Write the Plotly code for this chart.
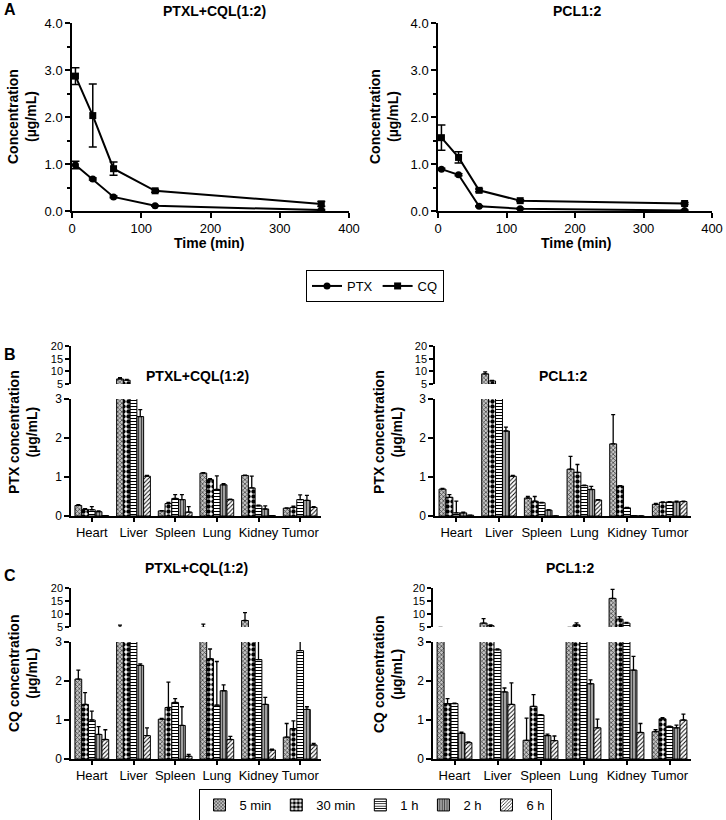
import plotly.graph_objects as go

W, H = 726, 820
FONT = "Liberation Sans, Arial, sans-serif"

# ---------------- data ----------------
times = [5, 30, 60, 120, 360]
a1_ptx = [0.98, 0.68, 0.30, 0.11, 0.02]
a1_ptx_err = [0.08, 0.02, 0.02, 0.01, 0.01]
a1_cq = [2.87, 2.03, 0.90, 0.43, 0.15]
a1_cq_err = [0.18, 0.67, 0.14, 0.03, 0.05]
a2_ptx = [0.89, 0.77, 0.10, 0.05, 0.01]
a2_ptx_err = [0.02, 0.02, 0.01, 0.01, 0.01]
a2_cq = [1.56, 1.14, 0.44, 0.22, 0.16]
a2_cq_err = [0.27, 0.12, 0.03, 0.02, 0.02]

organs = ["Heart", "Liver", "Spleen", "Lung", "Kidney", "Tumor"]
timepoints = ["5 min", "30 min", "1 h", "2 h", "6 h"]

# B left: PTX, PTXL+CQL(1:2)
b1_mean = [
    [0.27, 7.0, 0.13, 1.10, 1.04, 0.20],
    [0.17, 6.5, 0.32, 0.93, 0.72, 0.22],
    [0.16, 4.0, 0.45, 0.68, 0.26, 0.42],
    [0.11, 2.55, 0.42, 0.80, 0.18, 0.40],
    [0.01, 1.02, 0.10, 0.42, 0.01, 0.22],
]
b1_err = [
    [0.02, 0.5, 0.01, 0.01, 0.01, 0.01],
    [0.02, 0.3, 0.03, 0.03, 0.30, 0.03],
    [0.08, 0.2, 0.10, 0.35, 0.02, 0.12],
    [0.02, 0.18, 0.13, 0.03, 0.08, 0.13],
    [0.00, 0.02, 0.14, 0.01, 0.00, 0.02],
]
# B right: PTX, PCL1:2
b2_mean = [
    [0.69, 9.0, 0.46, 1.20, 1.85, 0.30],
    [0.48, 6.2, 0.38, 1.12, 0.77, 0.35],
    [0.08, 4.2, 0.34, 0.78, 0.21, 0.36],
    [0.08, 2.18, 0.15, 0.68, 0.01, 0.36],
    [0.02, 1.02, 0.00, 0.41, 0.00, 0.37],
]
b2_err = [
    [0.02, 0.8, 0.04, 0.33, 0.75, 0.02],
    [0.07, 0.2, 0.12, 0.20, 0.01, 0.01],
    [0.30, 0.1, 0.01, 0.01, 0.01, 0.01],
    [0.02, 0.10, 0.01, 0.08, 0.00, 0.02],
    [0.00, 0.02, 0.00, 0.01, 0.00, 0.01],
]
# C left: CQ, PTXL+CQL(1:2)
c1_mean = [
    [2.05, 4.8, 1.02, 4.8, 7.5, 0.56],
    [1.40, 4.0, 1.32, 2.57, 4.0, 0.78],
    [1.00, 4.0, 1.45, 1.38, 2.55, 2.78],
    [0.63, 2.40, 0.86, 1.75, 1.40, 1.27],
    [0.50, 0.60, 0.07, 0.50, 0.23, 0.36],
]
c1_err = [
    [0.23, 0.9, 0.02, 1.3, 3.0, 0.35],
    [0.30, 0.3, 0.65, 0.25, 0.3, 0.20],
    [0.23, 0.3, 0.10, 1.12, 0.8, 0.30],
    [0.20, 0.04, 0.48, 0.15, 0.18, 0.07],
    [0.25, 0.20, 0.05, 0.08, 0.02, 0.04],
]
# C right: CQ, PCL1:2
c2_mean = [
    [4.5, 6.5, 0.48, 4.5, 16.0, 0.70],
    [1.42, 5.5, 1.35, 5.8, 8.0, 1.03],
    [1.42, 2.80, 1.13, 4.0, 6.5, 0.83],
    [0.66, 1.72, 0.60, 1.93, 2.28, 0.80],
    [0.42, 1.40, 0.47, 0.80, 0.68, 1.00],
]
c2_err = [
    [0.3, 1.7, 0.57, 0.3, 3.5, 0.05],
    [0.13, 0.3, 0.30, 0.8, 1.0, 0.03],
    [0.01, 0.02, 0.01, 0.3, 0.3, 0.01],
    [0.03, 0.10, 0.04, 0.10, 0.35, 0.07],
    [0.02, 0.55, 0.12, 0.22, 0.23, 0.15],
]

# ---------------- styles ----------------
patterns = [
    dict(shape="x", bgcolor="#c4c4c4", fgcolor="#333333", size=3, solidity=0.4),
    dict(shape=".", bgcolor="white", fgcolor="black", size=5, solidity=0.6),
    dict(shape="-", bgcolor="white", fgcolor="black", size=3, solidity=0.35),
    dict(shape="|", bgcolor="#a0a0a0", fgcolor="#333333", size=3, solidity=0.3),
    dict(shape="/", bgcolor="white", fgcolor="black", size=3, solidity=0.3),
]


def xd(a, b):
    return [a / W, b / W]


def yd(top, bottom):
    return [1 - bottom / H, 1 - top / H]


axis_common = dict(
    showline=True, linecolor="black", linewidth=1.5, ticks="outside",
    ticklen=5, tickwidth=1.5, tickcolor="black", showgrid=False,
    zeroline=False, automargin=False,
    tickfont=dict(size=13, color="black", family=FONT),
)

fig = go.Figure()

# ---------------- panel A ----------------
for (xa, ya, ptx, ptxe, cq, cqe, show) in [
    ("x", "y", a1_ptx, a1_ptx_err, a1_cq, a1_cq_err, True),
    ("x2", "y2", a2_ptx, a2_ptx_err, a2_cq, a2_cq_err, False),
]:
    fig.add_trace(go.Scatter(
        x=times, y=ptx, xaxis=xa, yaxis=ya, name="PTX", mode="lines+markers",
        line=dict(color="black", width=2), marker=dict(symbol="circle", size=7, color="black"),
        error_y=dict(type="data", array=ptxe, color="black", thickness=1.5, width=4),
        showlegend=show, legend="legend"))
    fig.add_trace(go.Scatter(
        x=times, y=cq, xaxis=xa, yaxis=ya, name="CQ", mode="lines+markers",
        line=dict(color="black", width=2), marker=dict(symbol="square", size=7, color="black"),
        error_y=dict(type="data", array=cqe, color="black", thickness=1.5, width=4),
        showlegend=show, legend="legend"))

# ---------------- panels B, C ----------------
bar_panels = [
    ("x3", "y3", "y4", b1_mean, b1_err, False),
    ("x4", "y5", "y6", b2_mean, b2_err, False),
    ("x5", "y7", "y8", c1_mean, c1_err, True),
    ("x6", "y9", "y10", c2_mean, c2_err, False),
]
for xa, ylo, yhi, means, errs, show in bar_panels:
    for seg, ya in (("lo", ylo), ("hi", yhi)):
        for i, tp in enumerate(timepoints):
            pat = patterns[i]
            fig.add_trace(go.Bar(
                x=organs, y=means[i], xaxis=xa, yaxis=ya, name=tp,
                marker=dict(color=pat["bgcolor"], pattern=pat,
                            line=dict(color="black", width=1)),
                error_y=dict(type="data", array=errs[i], arrayminus=[0] * len(organs),
                             symmetric=False, color="black", thickness=1.3, width=2),
                showlegend=(show and seg == "lo"), legend="legend2",
                offsetgroup=str(i)))

# ---------------- layout ----------------
layout = dict(
    template="none",
    width=W, height=H, margin=dict(l=0, r=0, t=0, b=0, autoexpand=False),
    paper_bgcolor="white", plot_bgcolor="white",
    font=dict(family=FONT, size=13, color="black"),
    barmode="group", bargap=0.19, bargroupgap=0,
)

ay_dom = yd(23, 211)
minor_a = dict(dtick=0.5, ticks="outside", ticklen=3, tickcolor="black", tickwidth=1.5)
layout["xaxis"] = dict(axis_common, domain=xd(72, 349), range=[0, 400], dtick=100, anchor="y")
layout["yaxis"] = dict(axis_common, domain=ay_dom, range=[0, 4], dtick=1, tickformat=".1f",
                       anchor="x", minor=minor_a)
layout["xaxis2"] = dict(axis_common, domain=xd(438, 712), range=[0, 400], dtick=100, anchor="y2")
layout["yaxis2"] = dict(axis_common, domain=ay_dom, range=[0, 4], dtick=1, tickformat=".1f",
                        anchor="x2", minor=minor_a)

bar_geo = [
    ("xaxis3", "yaxis3", "yaxis4", (71, 321), (399, 516), (346, 384)),
    ("xaxis4", "yaxis5", "yaxis6", (435, 691), (399, 516), (346, 384)),
    ("xaxis5", "yaxis7", "yaxis8", (71, 321), (642, 759), (588, 627)),
    ("xaxis6", "yaxis9", "yaxis10", (433, 691), (642, 759), (588, 627)),
]
low_tick = dict(size=12, color="black", family=FONT)
up_tick = dict(size=11, color="black", family=FONT)
for xn, ylo, yhi, xp, ylp, yhp in bar_geo:
    xid = "x" + xn[5:]
    yloid = "y" + ylo[5:]
    layout[xn] = dict(axis_common, domain=xd(*xp), type="category", range=[-0.5, 5.5],
                      anchor=yloid, ticklen=4, tickangle=0)
    layout[ylo] = dict(axis_common, domain=yd(*ylp), range=[0, 3], tickvals=[0, 1, 2, 3],
                       anchor=xid, tickfont=low_tick)
    layout[yhi] = dict(axis_common, domain=yd(*yhp), range=[5, 20], tickvals=[5, 10, 15, 20],
                       anchor=xid, tickfont=up_tick, ticklen=4)

layout["legend"] = dict(orientation="h", x=375 / W, xanchor="center", y=1 - 270 / H, yanchor="top",
                        bordercolor="black", borderwidth=1, font=dict(size=13, family=FONT),
                        itemwidth=30, tracegroupgap=0, bgcolor="white")
layout["legend2"] = dict(orientation="h", x=375 / W, xanchor="center", y=1 - 789 / H, yanchor="top",
                         bordercolor="black", borderwidth=1, font=dict(size=13, family=FONT),
                         itemwidth=30, tracegroupgap=0, bgcolor="white")


def ann(text, x, y, size=14, angle=0, bold=True):
    return dict(text=("<b>%s</b>" % text) if bold else text, x=x / W, y=1 - y / H,
                xref="paper", yref="paper", showarrow=False, textangle=angle,
                font=dict(size=size, family=FONT, color="black"), xanchor="center", yanchor="middle")


annotations = [
    ann("A", 10, 9, 16), ann("B", 10, 355, 16), ann("C", 10, 575, 16),
    ann("PTXL+CQL(1:2)", 214, 11), ann("PCL1:2", 577, 11),
    ann("PTXL+CQL(1:2)", 197, 376), ann("PCL1:2", 563, 376),
    ann("PTXL+CQL(1:2)", 196, 568), ann("PCL1:2", 570, 568),
    ann("Concentration<br>(µg/mL)", 22, 117, 14, -90),
    ann("Concentration<br>(µg/mL)", 384, 117, 14, -90),
    ann("Time (min)", 210, 243), ann("Time (min)", 576, 243),
    ann("PTX concentration<br>(µg/mL)", 23, 432, 14, -90),
    ann("PTX concentration<br>(µg/mL)", 388, 432, 14, -90),
    ann("CQ concentration<br>(µg/mL)", 23, 674, 14, -90),
    ann("CQ concentration<br>(µg/mL)", 388, 674, 14, -90),
]
layout["annotations"] = annotations

fig.update_layout(**layout)
fig.write_html("out.html", config={"displayModeBar": False},
               post_script="document.body.style.margin='0';document.body.style.padding='0';")
